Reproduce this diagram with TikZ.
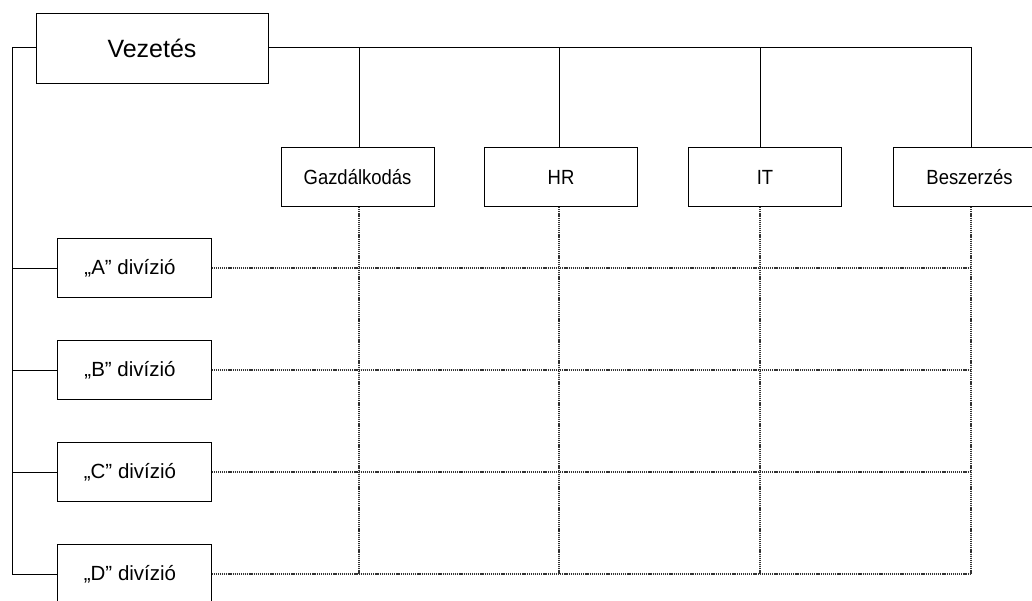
\documentclass[tikz,border=0pt]{standalone}
\usepackage{fontspec}
\setmainfont{Liberation Sans}
\newfontfamily\narrowfont[FakeStretch=0.9]{Liberation Sans}
\begin{document}
\begin{tikzpicture}[x=1pt,y=-1pt,
  solidline/.style={draw=black,line width=1pt},
  gridline/.style={draw=black!80,line width=1.8pt,dash pattern=on 1.2pt off 0.9pt},
  topbox/.style={draw=black,line width=1pt,minimum width=232pt,minimum height=70pt,inner sep=0pt,font=\fontsize{25}{28}\selectfont},
  unitbox/.style={draw=black,line width=1pt,minimum width=153pt,minimum height=59pt,inner sep=0pt,font=\narrowfont\fontsize{20.5}{24}\selectfont},
  divbox/.style={draw=black,line width=1pt,minimum width=154pt,minimum height=59pt,inner sep=0pt,font=\fontsize{20.5}{24}\selectfont}]
\useasboundingbox (0,0) rectangle (1032,600);
\fill[white] (0,0) rectangle (1032,600);
% top management box
\node[topbox] (vez) at (152,48) {Vezetés};
% functional units
\node[unitbox] (gaz) at (357.5,177) {Gazdálkodás};
\node[unitbox] (hr) at (561,177) {HR};
\node[unitbox] (it) at (765,177) {IT};
\node[unitbox] (besz) at (969.5,177) {Beszerzés};
% divisions
\node[divbox] (da) at (134,268) {\hspace*{-8pt}„A” divízió};
\node[divbox] (db) at (134,370) {\hspace*{-8pt}„B” divízió};
\node[divbox] (dc) at (134,472) {\hspace*{-8pt}„C” divízió};
\node[divbox] (dd) at (134,574) {\hspace*{-8pt}„D” divízió};
% column coordinates
\coordinate (c1) at (359,47);
\coordinate (c2) at (559,47);
\coordinate (c3) at (760,47);
\coordinate (c4) at (971,47);
\coordinate (lt) at (12,47);
% solid connectors
\draw[solidline] (vez.east |- c1) -- (c4);
\draw[solidline] (c1) -- (c1 |- gaz.north);
\draw[solidline] (c2) -- (c2 |- hr.north);
\draw[solidline] (c3) -- (c3 |- it.north);
\draw[solidline] (c4) -- (c4 |- besz.north);
\draw[solidline] (vez.west |- lt) -- (lt) -- (lt |- dd.west) -- (dd.west);
\draw[solidline] (lt |- da.west) -- (da.west);
\draw[solidline] (lt |- db.west) -- (db.west);
\draw[solidline] (lt |- dc.west) -- (dc.west);
% dotted matrix
\draw[gridline] (da.east) -- (c4 |- da.east);
\draw[gridline] (db.east) -- (c4 |- db.east);
\draw[gridline] (dc.east) -- (c4 |- dc.east);
\draw[gridline] (dd.east) -- (c4 |- dd.east);
\draw[gridline] (c1 |- gaz.south) -- (c1 |- dd.east);
\draw[gridline] (c2 |- hr.south) -- (c2 |- dd.east);
\draw[gridline] (c3 |- it.south) -- (c3 |- dd.east);
\draw[gridline] (c4 |- besz.south) -- (c4 |- dd.east);
\end{tikzpicture}
\end{document}
